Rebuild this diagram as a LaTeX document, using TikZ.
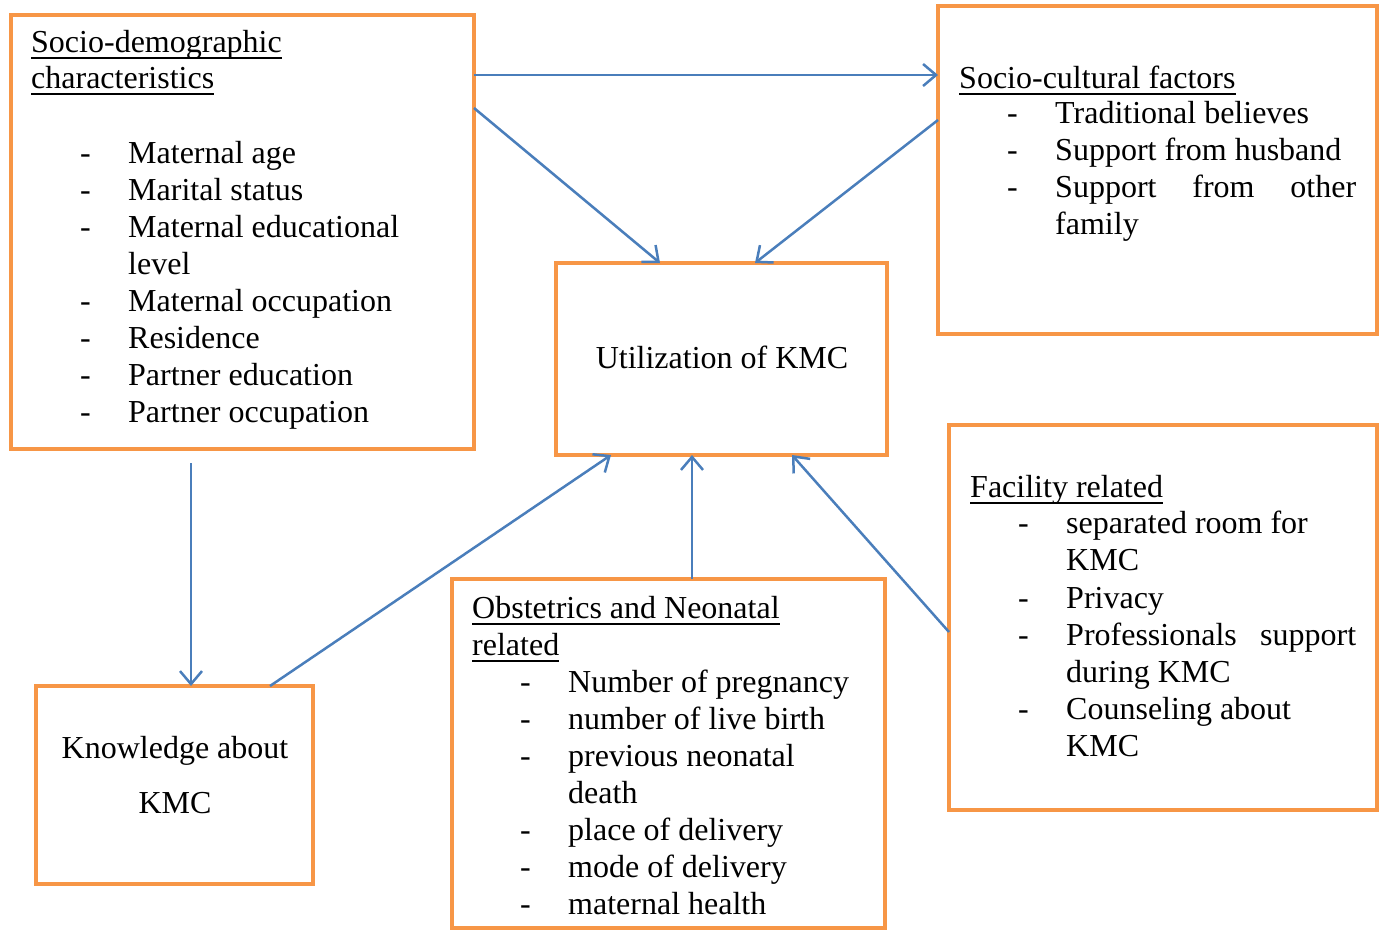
\documentclass[tikz,border=0pt]{standalone}
\usepackage{fontspec}
\setmainfont{Liberation Serif}
\usetikzlibrary{arrows.meta,calc}
\definecolor{boxorange}{HTML}{F79646}
\definecolor{arrblue}{HTML}{4A7EBB}
\newcommand{\hdul}[1]{\setbox0\hbox{#1}\rlap{\rule[-6.5pt]{\wd0}{1.6pt}}\box0}
\tikzset{
  box/.style={draw=boxorange, line width=4pt, rectangle, anchor=north west, inner sep=0pt, outer sep=0pt},
  txt/.style={anchor=base west, inner sep=0pt, font=\fontsize{32}{37}\selectfont},
  ctxt/.style={anchor=base, inner sep=0pt, font=\fontsize{32}{37}\selectfont},
  arr/.style={draw=arrblue, line width=2.5pt, -{Straight Barb[length=13pt,width=22pt,line width=2.5pt]}}
}
\begin{document}
\begin{tikzpicture}[x=1pt,y=-1pt]
\useasboundingbox (0,0) rectangle (1385,930);
% boxes
\node[box, minimum width=463pt, minimum height=434pt] (A) at (11,15) {};
\node[box, minimum width=439pt, minimum height=328pt] (B) at (938,6) {};
\node[box, minimum width=331pt, minimum height=192pt] (C) at (556,263) {};
\node[box, minimum width=428pt, minimum height=385pt] (D) at (949,425) {};
\node[box, minimum width=433pt, minimum height=349pt] (E) at (452,579) {};
\node[box, minimum width=277pt, minimum height=198pt] (F) at (36,686) {};
% box A text
\node[txt] (a0) at (31,52) {\hdul{Socio-demographic}};
\node[txt] (a00) at (31,88) {\hdul{characteristics}};
\node[txt] (ad1) at (80,163) {-};
\node[txt] (a1) at (128,163) {Maternal age};
\node[txt] (ad2) at (80,200) {-};
\node[txt] (a2) at (128,200) {Marital status};
\node[txt] (ad3) at (80,237) {-};
\node[txt] (a3) at (128,237) {Maternal educational};
\node[txt] (a3b) at (128,274) {level};
\node[txt] (ad4) at (80,311) {-};
\node[txt] (a4) at (128,311) {Maternal occupation};
\node[txt] (ad5) at (80,348) {-};
\node[txt] (a5) at (128,348) {Residence};
\node[txt] (ad6) at (80,385) {-};
\node[txt] (a6) at (128,385) {Partner education};
\node[txt] (ad7) at (80,422) {-};
\node[txt] (a7) at (128,422) {Partner occupation};
% box B text
\node[txt] (b0) at (959,88) {\hdul{Socio-cultural factors}};
\node[txt] (bd1) at (1007,123) {-};
\node[txt] (b1) at (1055,123) {Traditional believes};
\node[txt] (bd2) at (1007,160) {-};
\node[txt] (b2) at (1055,160) {Support from husband};
\node[txt] (bd3) at (1007,197) {-};
\node[txt] (b3) at (1055,197) {\makebox[301pt][s]{Support from other}};
\node[txt] (b3b) at (1055,234) {family};
% box C text
\node[ctxt] (c0) at (722,368) {Utilization of KMC};
% box D text
\node[txt] (d0) at (970,497) {\hdul{Facility related}};
\node[txt] (dd1) at (1018,533) {-};
\node[txt] (d1) at (1066,533) {separated room for};
\node[txt] (d1b) at (1066,570) {KMC};
\node[txt] (dd2) at (1018,608) {-};
\node[txt] (d2) at (1066,608) {Privacy};
\node[txt] (dd3) at (1018,645) {-};
\node[txt] (d3) at (1066,645) {\makebox[290pt][s]{Professionals support}};
\node[txt] (d3b) at (1066,682) {during KMC};
\node[txt] (dd4) at (1018,719) {-};
\node[txt] (d4) at (1066,719) {Counseling about};
\node[txt] (d4b) at (1066,756) {KMC};
% box E text
\node[txt] (e0) at (472,618) {\hdul{Obstetrics and Neonatal}};
\node[txt] (e00) at (472,655) {\hdul{related}};
\node[txt] (ed1) at (520,692) {-};
\node[txt] (e1) at (568,692) {Number of pregnancy};
\node[txt] (ed2) at (520,729) {-};
\node[txt] (e2) at (568,729) {number of live birth};
\node[txt] (ed3) at (520,766) {-};
\node[txt] (e3) at (568,766) {previous neonatal};
\node[txt] (e3b) at (568,803) {death};
\node[txt] (ed4) at (520,840) {-};
\node[txt] (e4) at (568,840) {place of delivery};
\node[txt] (ed5) at (520,877) {-};
\node[txt] (e5) at (568,877) {mode of delivery};
\node[txt] (ed6) at (520,914) {-};
\node[txt] (e6) at (568,914) {maternal health};
% box F text
\node[ctxt] (f0) at (175,758) {Knowledge about};
\node[ctxt] (f1) at (175,813) {KMC};
% connectors
\draw[arr] (A.east |- 0,75) -- (B.west |- 0,75);
\draw[arr] (A.east |- 0,108) -- (C.north -| 660,0);
\draw[arr] (B.west |- 0,120) -- (C.north -| 755,0);
\draw[arr] ($(A.south -| 191,0)+(0,14)$) -- (F.north -| 191,0);
\draw[arr] (F.north -| 270,0) -- (C.south -| 611,0);
\draw[arr] (E.north -| 692,0) -- (C.south -| 692,0);
\draw[arr] (D.west |- 0,632) -- (C.south -| 792,0);
\end{tikzpicture}
\end{document}
